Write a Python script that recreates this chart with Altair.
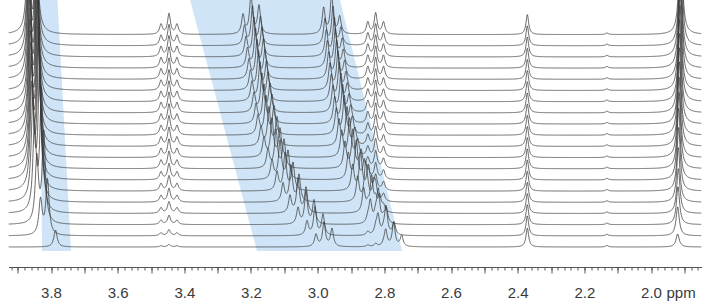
import numpy as np
import pandas as pd
import altair as alt

alt.data_transformers.disable_max_rows()

# ---------------- values ----------------
N_TRACES = 20
TRACE_STEP = 11.18          # vertical offset between stacked spectra
PPM_LEFT, PPM_RIGHT = 3.9275, 1.8485

# peak A (doublet, shifting, very tall)
A_center = [3.857, 3.856, 3.856, 3.855, 3.855, 3.854, 3.853, 3.853, 3.852, 3.852,
            3.851, 3.850, 3.849, 3.848, 3.847, 3.844, 3.839, 3.832, 3.821, 3.797]
A_h_left = [105, 105, 105, 105, 105, 105, 105, 105, 105, 105,
            105, 105, 105, 105, 100, 95, 85, 65, 35, 0]
A_h_right = [150, 150, 150, 150, 150, 150, 150, 150, 150, 150,
             150, 150, 150, 150, 145, 140, 120, 90, 55, 17]
A_split = 0.021

# triplet B (3.446 ppm)
B_center = 3.446
B_h = [20.5, 20.5, 20.5, 20.5, 20.5, 20, 20, 20, 19.5, 19,
       18.5, 18, 17, 16, 15, 13.5, 11.5, 9, 6, 2.5]
B_side = 0.48
B_split = 0.024

# group C (shifting multiplet, 3.20 -> 2.98 ppm)
C_center = [3.200, 3.1955, 3.191, 3.1865, 3.182, 3.1775, 3.173, 3.167, 3.161, 3.155,
            3.146, 3.137, 3.125, 3.113, 3.098, 3.080, 3.059, 3.035, 3.008, 2.981]
C_ratio = [0.5, 1.0, 0.74]
# group D (shifting multiplet, 2.96 -> 2.77 ppm)
D_center = [2.958, 2.954, 2.950, 2.947, 2.943, 2.939, 2.935, 2.930, 2.925, 2.920,
            2.912, 2.904, 2.894, 2.884, 2.871, 2.856, 2.838, 2.818, 2.795, 2.772]
D_ratio = [0.68, 1.0, 0.45]
CD_h = [38, 38, 38, 38, 38, 38, 38, 38, 38, 38,
        38, 38, 38, 38, 37, 36, 34, 32, 28, 24]
CD_split = 0.024

# triplet E (2.826 ppm)
E_center = 2.826
E_h = [21, 21, 21, 21, 21, 20.5, 20.5, 20, 20, 19.5,
       19, 18, 17, 16, 15, 13.5, 11.5, 9, 6.5, 3]
E_side = 0.57
E_split = 0.0235

# singlet F (2.371 ppm)
F_center = 2.371
F_h = [20] * 19 + [19]

# small bump (2.132 ppm)
S_center = 2.132
S_h = 1.5

# singlet G (shifting, tall)
G_center = [1.911, 1.911, 1.912, 1.912, 1.912, 1.913, 1.913, 1.914, 1.914, 1.915,
            1.915, 1.916, 1.916, 1.917, 1.917, 1.918, 1.918, 1.919, 1.920, 1.920]
G_h = [110, 108, 106, 104, 102, 100, 97, 94, 91, 88,
       85, 81, 77, 72, 64, 55, 45, 38, 29, 13]

# line half-widths (ppm)
W_MULT = 0.0052
W_F = 0.0048
W_A = 0.0058
W_G = 0.0058

# highlighted regions (ppm at bottom / top edge)
band_id = [1, 1, 2, 2]
band_y = [-4, 247, -4, 247]
band_left = [3.827, 3.833, 3.182, 3.383]
band_right = [3.740, 3.7805, 2.747, 2.933]

# axis ticks
major_ticks = [round(3.9 - 0.1 * k, 1) for k in range(21)]
minor_ticks = [round(3.92 - 0.02 * k, 2) for k in range(104)]

# ---------------- build spectra ----------------
grid = np.round(np.arange(PPM_RIGHT, PPM_LEFT + 1e-9, 0.001), 4)


def lor(c, h, g):
    return h * g * g / ((grid - c) ** 2 + g * g)


frames = []
for i in range(N_TRACES):
    y = np.full(grid.shape, (N_TRACES - 1 - i) * TRACE_STEP)
    y += lor(A_center[i] + A_split / 2, A_h_left[i], W_A)
    y += lor(A_center[i] - A_split / 2, A_h_right[i], W_A)
    for k, r in zip((-1, 0, 1), (B_side, 1.0, B_side)):
        y += lor(B_center + k * B_split, B_h[i] * r, W_MULT)
    for k, r in zip((1, 0, -1), C_ratio):
        y += lor(C_center[i] + k * CD_split, CD_h[i] * r, W_MULT)
    for k, r in zip((1, 0, -1), D_ratio):
        y += lor(D_center[i] + k * CD_split, CD_h[i] * r, W_MULT)
    for k, r in zip((-1, 0, 1), (E_side, 1.0, E_side)):
        y += lor(E_center + k * E_split, E_h[i] * r, W_MULT)
    y += lor(F_center, F_h[i], W_F)
    y += lor(S_center, S_h, 0.005)
    y += lor(G_center[i], G_h[i], W_G)
    frames.append(pd.DataFrame({"ppm": grid, "y": np.round(y, 2), "trace": i}))
spectra = pd.concat(frames, ignore_index=True)

bands = pd.DataFrame({"band": band_id, "y": band_y, "xl": band_left, "xr": band_right})

xscale = alt.Scale(domain=[PPM_LEFT, PPM_RIGHT], nice=False, zero=False)
yscale = alt.Scale(domain=[-20, 247], nice=False, zero=False)

FONT = "Liberation Sans"

band_layer = alt.Chart(bands).mark_area(
    orient="horizontal", color="#cfe5f7", opacity=1
).encode(
    y=alt.Y("y:Q", scale=yscale, axis=None),
    x=alt.X("xl:Q", scale=xscale,
            axis=alt.Axis(orient="bottom", values=minor_ticks, tickSize=3, labels=False,
                          domain=False, grid=False, title=None, tickColor="#555", tickWidth=1)),
    x2="xr:Q",
    detail="band:N",
)

line_layer = alt.Chart(spectra).mark_line(
    color="#3a3a3a", strokeWidth=1, opacity=0.75, clip=True
).encode(
    x=alt.X("ppm:Q", scale=xscale,
            axis=alt.Axis(orient="bottom", values=major_ticks, tickSize=6, grid=False,
                          domainColor="#555", tickColor="#555", tickWidth=1, domainWidth=1,
                          labelExpr="(round(datum.value*10) % 2 == 0) ? format(datum.value, '.1f') : ''",
                          labelFont=FONT, labelFontSize=15, labelColor="#3a3a3a",
                          labelBaseline="alphabetic", labelPadding=24, labelFlush=False,
                          labelOverlap=False,
                          title="ppm", titleFont=FONT, titleFontSize=15, titleFontWeight="normal",
                          titleColor="#3a3a3a", titleAlign="left", titleAnchor="start",
                          titleBaseline="alphabetic", titleX=657.5, titleY=30)),
    y=alt.Y("y:Q", scale=yscale, axis=None),
    detail="trace:N",
)

chart = alt.layer(band_layer, line_layer).resolve_axis(x="independent").properties(
    width=693, height=267,
    autosize=alt.AutoSizeParams(type="none"),
    padding={"left": 8.5, "right": 11.5, "top": 0, "bottom": 39},
    background="white",
).configure_view(stroke=None)

chart.save("out.html", embed_options={"renderer": "svg", "actions": False})
